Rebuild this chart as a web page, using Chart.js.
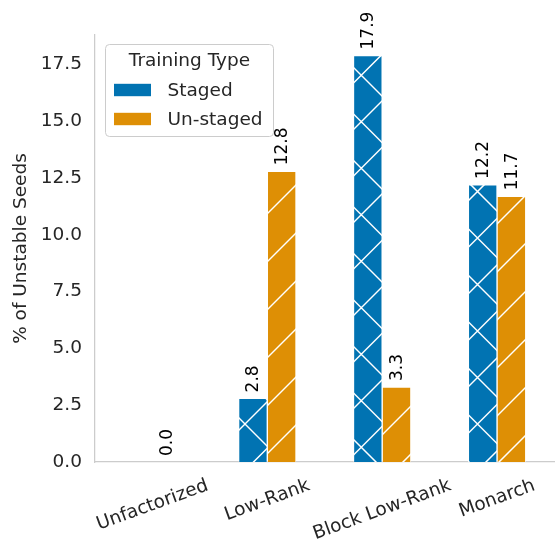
<!DOCTYPE html>
<html><head><meta charset="utf-8">
<script src="https://cdn.jsdelivr.net/npm/chart.js@4"></script>
<style>html,body{margin:0;padding:0;background:#fff}canvas{display:block}</style>
</head><body>
<canvas id="c" width="556" height="545"></canvas>
<script>
// ---- data ----
const categories = ['Unfactorized', 'Low-Rank', 'Block Low-Rank', 'Monarch'];
const seriesNames = ['Staged', 'Un-staged'];
const stagedValues = [null, 2.8, 17.9, 12.2];
const unstagedValues = [0.0, 12.8, 3.3, 11.7];
const yTickValues = [0, 2.5, 5, 7.5, 10, 12.5, 15, 17.5];
const legendTitle = 'Training Type';
const yAxisTitle = '% of Unstable Seeds';

// ---- styles ----
const FONT = "'DejaVu Sans', sans-serif";
const FS = 18.5;
const TEXT = '#262626';
const colors = ['#0173b2', '#de8f05'];
const hatchStyles = [
  { spacing: 46.5, lines: [{ sign: 1, phase: 18 }, { sign: -1, phase: 7 }] },
  { spacing: 48, lines: [{ sign: 1, phase: 1 }] }
];

const hatchPlugin = {
  id: 'hatch',
  afterDatasetsDraw(chart) {
    const ctx = chart.ctx;
    chart.data.datasets.forEach((ds, di) => {
      const meta = chart.getDatasetMeta(di);
      const h = hatchStyles[di];
      meta.data.forEach((bar, i) => {
        const v = ds.data[i];
        if (v == null || v === 0) return;
        const p = bar.getProps(['x', 'y', 'base', 'width'], true);
        const x0 = p.x - p.width / 2, x1 = p.x + p.width / 2;
        const top = Math.min(p.y, p.base), bot = Math.max(p.y, p.base);
        ctx.save();
        ctx.beginPath(); ctx.rect(x0, top, x1 - x0, bot - top); ctx.clip();
        ctx.strokeStyle = '#ffffff'; ctx.lineWidth = 1.5;
        ctx.beginPath();
        const S = h.spacing;
        const a = x0 - 3, b = x1 + 3;
        h.lines.forEach(L => {
          if (L.sign > 0) {
            const cmin = a + top - S, cmax = b + bot + S;
            let c = L.phase + Math.floor((cmin - L.phase) / S) * S;
            for (; c <= cmax; c += S) { ctx.moveTo(a, c - a); ctx.lineTo(b, c - b); }
          } else {
            const cmin = a - bot - S, cmax = b - top + S;
            let c = L.phase + Math.floor((cmin - L.phase) / S) * S;
            for (; c <= cmax; c += S) { ctx.moveTo(a, a - c); ctx.lineTo(b, b - c); }
          }
        });
        ctx.stroke();
        ctx.restore();
      });
    });
    // value labels
    chart.data.datasets.forEach((ds, di) => {
      const meta = chart.getDatasetMeta(di);
      meta.data.forEach((bar, i) => {
        const v = ds.data[i];
        if (v == null) return;
        const p = bar.getProps(['x', 'y'], true);
        ctx.save();
        ctx.translate(p.x, p.y - 6);
        ctx.rotate(-Math.PI / 2);
        ctx.font = '17px ' + FONT;
        ctx.fillStyle = '#000000';
        ctx.textAlign = 'left';
        ctx.textBaseline = 'middle';
        ctx.fillText(v.toFixed(1), 0, 1);
        ctx.restore();
      });
    });
  },
  afterDraw(chart) {
    const ctx = chart.ctx;
    const xs = chart.scales.x;
    const area = chart.chartArea;
    // x tick labels, rotated 20deg, centred on tick
    const ang = 20 * Math.PI / 180;
    ctx.save();
    ctx.font = FS + 'px ' + FONT;
    ctx.fillStyle = TEXT;
    ctx.textAlign = 'center';
    ctx.textBaseline = 'middle';
    categories.forEach((lab, i) => {
      const cx = xs.getPixelForValue(i);
      const w = ctx.measureText(lab).width;
      const hgt = FS * 1.17;
      const bh = w * Math.sin(ang) + hgt * Math.cos(ang);
      const cy = area.bottom + 13 + bh / 2;
      ctx.save();
      ctx.translate(cx, cy);
      ctx.rotate(-ang);
      ctx.fillText(lab, 0, 0);
      ctx.restore();
    });
    ctx.restore();

    // legend
    const L = area.left + 10.5, T = area.top + 9.5, W = 168, H = 92, r = 4;
    ctx.save();
    ctx.beginPath();
    ctx.moveTo(L + r, T); ctx.lineTo(L + W - r, T); ctx.arcTo(L + W, T, L + W, T + r, r);
    ctx.lineTo(L + W, T + H - r); ctx.arcTo(L + W, T + H, L + W - r, T + H, r);
    ctx.lineTo(L + r, T + H); ctx.arcTo(L, T + H, L, T + H - r, r);
    ctx.lineTo(L, T + r); ctx.arcTo(L, T, L + r, T, r);
    ctx.closePath();
    ctx.fillStyle = 'rgba(255,255,255,0.8)'; ctx.fill();
    ctx.strokeStyle = '#cccccc'; ctx.lineWidth = 1; ctx.stroke();
    ctx.font = FS + 'px ' + FONT;
    ctx.fillStyle = TEXT;
    ctx.textAlign = 'center'; ctx.textBaseline = 'middle';
    ctx.fillText(legendTitle, L + W / 2, T + 17);
    ctx.textAlign = 'left';
    seriesNames.forEach((nm, k) => {
      const cy = T + 45.5 + k * 29;
      ctx.fillStyle = colors[k];
      ctx.fillRect(L + 8.5, cy - 6.2, 37, 12.4);
      ctx.fillStyle = TEXT;
      ctx.fillText(nm, L + 62, cy + 1);
    });
    ctx.restore();
  }
};

new Chart(document.getElementById('c'), {
  type: 'bar',
  data: {
    labels: categories,
    datasets: [
      { label: seriesNames[0], data: stagedValues, backgroundColor: colors[0], borderColor: '#ffffff', borderWidth: 0.7, categoryPercentage: 0.5, barPercentage: 1 },
      { label: seriesNames[1], data: unstagedValues, backgroundColor: colors[1], borderColor: '#ffffff', borderWidth: 0.7, categoryPercentage: 0.5, barPercentage: 1 }
    ]
  },
  options: {
    responsive: false,
    animation: false,
    devicePixelRatio: 1,
    layout: { padding: { top: 35, right: 1.5, left: 0, bottom: 0 } },
    plugins: { legend: { display: false }, tooltip: { enabled: false } },
    scales: {
      x: {
        z: 1,
        grid: { display: false, drawTicks: false },
        border: { display: true, color: '#cccccc', width: 1.25 },
        ticks: { display: false },
        afterFit(s) { s.height = 545 - 462; }
      },
      y: {
        z: 1,
        min: 0, max: 18.8,
        grid: { display: false, drawTicks: false },
        border: { display: true, color: '#cccccc', width: 1.25 },
        afterBuildTicks(s) { s.ticks = yTickValues.map(v => ({ value: v })); },
        ticks: {
          padding: 13,
          color: TEXT,
          font: { family: FONT, size: FS },
          callback: v => Number(v).toFixed(1)
        },
        title: { display: true, text: yAxisTitle, color: TEXT, font: { family: FONT, size: FS }, padding: { top: 10, bottom: 0 } },
        afterFit(s) { s.width = 95; }
      }
    }
  },
  plugins: [hatchPlugin]
});
</script>
</body></html>
